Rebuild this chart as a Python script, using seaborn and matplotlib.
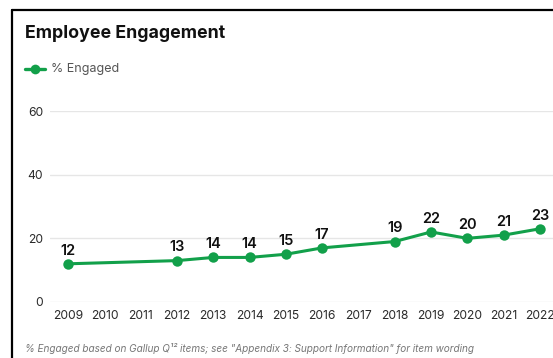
import matplotlib
matplotlib.use("Agg")
import matplotlib.pyplot as plt
import seaborn as sns
import pandas as pd
from matplotlib.lines import Line2D

years = [2009, 2012, 2013, 2014, 2015, 2016, 2018, 2019, 2020, 2021, 2022]
engaged = [12, 13, 14, 14, 15, 17, 19, 22, 20, 21, 23]
tick_years = list(range(2009, 2023))
y_ticks = [0, 20, 40, 60]
title = "Employee Engagement"
series_name = "% Engaged"
footnote = "% Engaged based on Gallup Q\u00b9\u00b2 items; see \"Appendix 3: Support Information\" for item wording"

GREEN = "#12a04a"

sns.set_theme(style="white")
plt.rcParams["font.family"] = ["Inter", "DejaVu Sans"]

W, H = 553, 358
fig = plt.figure(figsize=(W / 100, H / 100), dpi=100)
fig.patch.set_facecolor("white")

ax_l, ax_r, ax_t, ax_b = 50, 553, 111, 302
ax = fig.add_axes([ax_l / W, (H - ax_b) / H, (ax_r - ax_l) / W, (ax_b - ax_t) / H])

df = pd.DataFrame({"year": years, "value": engaged, "series": series_name})
sns.lineplot(data=df, x="year", y="value", ax=ax, color=GREEN, linewidth=2.2,
             marker="o", markersize=7.5, markeredgewidth=0, legend=False, clip_on=False)

for x, y in zip(years, engaged):
    ax.annotate(str(y), (x, y), xytext=(0, 4.5), textcoords="offset points",
                ha="center", va="bottom", fontsize=10.5, fontweight="semibold", color="#111111")

ax.set_xlim(2008.5, 2022.36)
ax.set_ylim(0, 60)
ax.set_xticks(tick_years)
ax.set_xticklabels([str(t) for t in tick_years])
ax.set_yticks(y_ticks)
ax.set_yticklabels([str(t) for t in y_ticks])
ax.tick_params(axis="both", length=0, labelsize=8.7, labelcolor="#2a2a2a")
ax.tick_params(axis="x", pad=6)
ax.tick_params(axis="y", pad=5)
ax.set_xlabel("")
ax.set_ylabel("")
ax.grid(axis="y", color="#e6e6e6", linewidth=1)
ax.grid(axis="x", visible=False)
for s in ax.spines.values():
    s.set_visible(False)

# title, legend, footnote
fig.text(25 / W, 1 - 33 / H, title, fontsize=12.8, fontweight="bold", color="#111111",
         ha="left", va="center")
fig.add_artist(Line2D([25 / W, 45 / W], [1 - 69 / H, 1 - 69 / H], color=GREEN,
                      linewidth=2.4, marker=None))
fig.add_artist(Line2D([35 / W], [1 - 69 / H], color=GREEN, marker="o",
                      markersize=7, markeredgewidth=0))
fig.text(51 / W, 1 - 69 / H, series_name, fontsize=9, color="#555555", ha="left", va="center")
fig.text(25 / W, 1 - 348 / H, footnote, fontsize=7.2, color="#777777", style="italic",
         ha="left", va="center")

# frame (left and top)
fig.add_artist(Line2D([12 / W, 12 / W], [0, 1 - 10 / H], color="black", linewidth=1.6))
fig.add_artist(Line2D([12 / W, 1], [1 - 10 / H, 1 - 10 / H], color="black", linewidth=1.6))

fig.savefig("out.png", dpi=100)
